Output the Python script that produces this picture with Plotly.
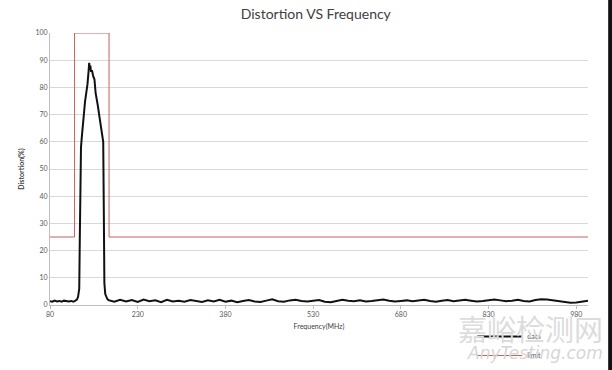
import plotly.graph_objects as go

# ---- data ----
freq_low = [80, 84, 88, 92, 96, 100, 104, 108, 112, 116, 120, 124]
dist_low = [1.4, 1.2, 1.6, 1.3, 1.5, 1.2, 1.6, 1.4, 1.3, 1.5, 1.2, 1.7]

freq_peak = [126, 128, 130, 131, 132, 133, 134.5, 136, 138, 140, 142, 144, 146, 147,
             148, 149, 150, 152, 154, 156, 158, 160, 162, 164, 166, 168, 170, 171,
             172, 173, 174.5, 176, 178, 180]
dist_peak = [2.0, 3.0, 6, 25, 45, 58, 62, 66, 72, 75, 78, 81, 86, 89,
             87, 88, 86, 86, 84, 83, 78, 76, 73, 70, 67, 64, 62, 60,
             35, 8, 4, 3, 2.2, 1.8]

freq_high = list(range(190, 1001, 10))
dist_high = [1.2, 1.9, 1.3, 1.8, 1.1, 2.0, 1.4, 1.7, 1.0, 1.9, 1.3, 1.6, 1.2, 1.8, 1.4, 1.1,
             1.7, 1.3, 1.9, 1.2, 1.6, 1.0,
             1.5, 1.8, 1.3, 1.1, 1.6, 2.1, 1.4, 1.2, 1.7, 1.9, 1.5, 1.3, 1.6, 1.8, 1.2, 1.0,
             1.5, 1.9, 1.6, 1.4, 1.7, 1.3, 1.5, 1.8, 2.0, 1.6, 1.3, 1.5, 1.7, 1.4,
             1.6, 1.9, 1.5, 1.2, 1.6, 1.8, 1.4, 1.7, 1.9, 1.6, 1.3, 1.5, 1.8, 2.0, 1.7, 1.4,
             1.6, 1.9, 1.5, 1.3, 1.8, 2.1, 2.0, 1.7, 1.5, 1.1, 0.8, 0.9, 1.3, 1.6]

limit_freq = [80, 122, 122, 181, 181, 1000]
limit_val = [25, 25, 100, 100, 25, 25]

x_ticks = [80, 230, 380, 530, 680, 830, 980]
y_ticks = list(range(0, 101, 10))

freq = freq_low + freq_peak + freq_high
dist = dist_low + dist_peak + dist_high

FONT = "Lato"
fig = go.Figure()
fig.add_trace(go.Scatter(x=freq, y=dist, mode="lines", name="data",
                         line=dict(color="#111111", width=2)))
fig.add_trace(go.Scatter(x=limit_freq, y=limit_val, mode="lines", name="limit",
                         line=dict(color="#c9605c", width=1)))

fig.update_layout(
    width=612, height=370,
    margin=dict(l=50, r=24, t=33, b=65, autoexpand=False),
    paper_bgcolor="white", plot_bgcolor="white",
    title=dict(text="Distortion VS Frequency", x=0.516, xanchor="center",
               y=0.962, yanchor="middle",
               font=dict(family=FONT, size=14, color="#404040")),
    font=dict(family=FONT, size=7, color="#595959"),
    showlegend=True,
    legend=dict(x=0.785, y=-0.0625, xanchor="left", yanchor="top",
                bgcolor="rgba(0,0,0,0)", font=dict(size=7, color="#595959"),
                tracegroupgap=0, itemwidth=45),
    xaxis=dict(range=[80, 1000], tickvals=x_ticks, ticktext=[str(v) for v in x_ticks],
               showgrid=False, zeroline=False, showline=True, linecolor="#bfbfbf",
               linewidth=1, ticks="outside", ticklen=3, tickcolor="#bfbfbf",
               tickfont=dict(size=7, color="#595959"),
               title=dict(text="Frequency(MHz)", font=dict(size=7, color="#404040"), standoff=6)),
    yaxis=dict(range=[0, 100], tickvals=y_ticks, showgrid=True, gridcolor="#d9d9d9",
               gridwidth=1, zeroline=False, showline=True, linecolor="#bfbfbf",
               linewidth=1, ticks="", tickfont=dict(size=7, color="#595959"),
               title=dict(text="<b>Distortion(%)</b>", font=dict(size=7, color="#404040"),
                          standoff=9)),
)

# watermark
fig.add_annotation(text="嘉峪检测网", xref="paper", yref="paper", x=1.0316, y=0.0,
                   xanchor="right", yanchor="top", showarrow=False,
                   font=dict(family="Noto Sans CJK SC", size=29, color="#dcdcdc"))
fig.add_annotation(text="<i>AnyTesting.com</i>", xref="paper", yref="paper", x=1.0316, y=-0.132,
                   xanchor="right", yanchor="top", showarrow=False,
                   font=dict(family="DejaVu Sans", size=17, color="#d6d6d6"))
# dark border strip at the right edge
fig.add_shape(type="rect", xref="paper", yref="paper", x0=1.0375, x1=1.2, y0=-0.3,
              y1=1.2, fillcolor="#111111", line=dict(width=0), layer="above")

fig.write_html("out.html", config={"displayModeBar": False},
               post_script="document.body.style.margin='0px';")
